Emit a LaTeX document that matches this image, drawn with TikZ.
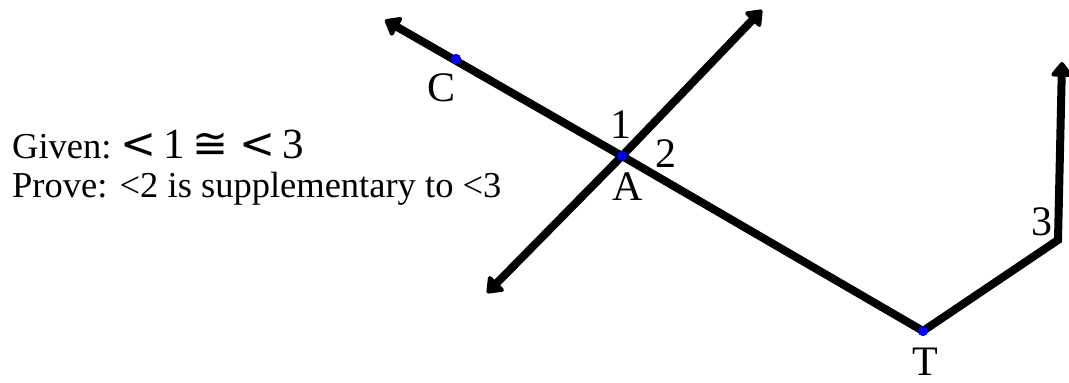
\documentclass[tikz,border=0pt]{standalone}
\usepackage{fontspec}
\setmainfont{Liberation Serif}
\newfontfamily\symfont{DejaVu Sans}
\usetikzlibrary{arrows.meta}
\begin{document}
\begin{tikzpicture}[x=1pt, y=-1pt,
  ray/.style={line width=8pt, -{Triangle[round, length=16pt, width=24pt]}},
  pt/.style={circle, fill=blue, inner sep=0pt, minimum size=10pt},
  lbl/.style={font=\fontsize{42}{46}\selectfont, inner sep=0pt}]
\useasboundingbox (0,0) rectangle (1069,383);
% points
\node[pt] (A) at (622,156) {};
\node[pt] (C) at (456,59) {};
\node[pt] (T) at (923,331) {};
\coordinate (ca) at (385,20);
\coordinate (ba) at (762,10);
\coordinate (bb) at (487,293);
\coordinate (K) at (1058,240);
\coordinate (ka) at (1062,62);
% lines
\draw[ray] (T.center) -- (A.center) -- (ca);
\draw[ray] (A.center) -- (ba);
\draw[ray] (A.center) -- (bb);
\draw[ray] (T.center) -- (K) -- (ka);
\node[pt] at (A) {};
\node[pt] at (C) {};
\node[pt] at (T) {};
% labels
\node[lbl] (lc) at (442,88) {C};
\node[lbl] (l1) at (621,125) {1};
\node[lbl] (l2) at (666,154) {2};
\node[lbl] (la) at (628,187) {A};
\node[lbl] (l3) at (1042,222) {3};
\node[lbl] (lt) at (925,362) {T};
% given / prove
\node[anchor=base west, inner sep=0pt, font=\fontsize{36.5}{40}\selectfont] (given) at (12,158)
  {Given:\ {\fontsize{43}{46}\selectfont{\symfont <}\,1\,{\symfont ≅}\ {\symfont <}\,3}};
\node[anchor=base west, inner sep=0pt, font=\fontsize{36.5}{40}\selectfont] (prove) at (12,197)
  {Prove: <2 is supplementary to <3};
\end{tikzpicture}
\end{document}
